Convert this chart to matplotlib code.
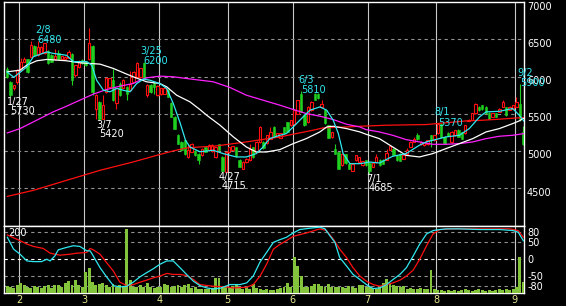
import numpy as np
import pandas as pd
import matplotlib
matplotlib.use("Agg")
import matplotlib.pyplot as plt

plt.rcParams["axes.unicode_minus"] = False

# trading days on the chart (Tokyo, 2011)
holidays = ["2011-02-11", "2011-03-21", "2011-04-29", "2011-05-03",
            "2011-05-04", "2011-05-05", "2011-07-18"]
dates = pd.bdate_range("2011-01-26", "2011-09-05", freq="C", holidays=holidays)

open_ = [6100, 5930, 5840, 5930, 6090, 6200, 6230, 6265, 6410, 6290,
         6310, 6310, 6345, 6290, 6230, 6310, 6230, 6230, 6255, 6300,
         6020, 6130, 6220, 6200, 6230, 6410, 5570, 5660, 5435, 5795,
         5860, 5950, 5640, 5905, 5850, 5855, 5825, 5930, 6000, 5990,
         6185, 5750, 5885, 5915, 5750, 5760, 5770, 5825, 5650, 5460,
         5210, 5120, 5145, 4920, 4990, 5000, 4965, 4940, 5060, 5010,
         5000, 4920, 5090, 4920, 4720, 4985, 5010, 5055, 4880, 4765,
         4850, 4875, 5055, 4985, 5120, 5120, 5110, 5165, 5320, 5190,
         5180, 5320, 5390, 5345, 5360, 5500, 5760, 5480, 5390, 5545,
         5760, 5770, 5585, 5550, 5345, 5190, 5030, 4985, 4810, 4955,
         4830, 4735, 4875, 4850, 4810, 4880, 4840, 4785, 4850, 4885,
         4885, 4885, 5020, 5030, 4945, 4965, 4895, 4955, 5055, 5120,
         5210, 5090, 5075, 5090, 5210, 5145, 5235, 5360, 5190, 5245,
         5120, 5210, 5280, 5255, 5235, 5405, 5415, 5505, 5590, 5615,
         5590, 5510, 5460, 5510, 5525, 5595, 5585, 5550, 5570, 5590,
         5630, 5255]
high = [6130, 5945, 5890, 6100, 6250, 6260, 6240, 6470, 6420, 6480,
        6410, 6450, 6350, 6300, 6375, 6360, 6280, 6270, 6355, 6310,
        6160, 6220, 6240, 6210, 6650, 6420, 5760, 5670, 5750, 6000,
        5980, 6105, 5850, 5920, 5960, 5870, 6075, 6070, 6190, 6120,
        6200, 5900, 5900, 5925, 5880, 5850, 5860, 5835, 5660, 5470,
        5230, 5130, 5150, 5100, 5110, 5010, 4970, 5040, 5070, 5090,
        5090, 5060, 5100, 4930, 5000, 5060, 5070, 5060, 4890, 4860,
        4900, 5090, 5060, 5130, 5330, 5130, 5220, 5325, 5330, 5240,
        5240, 5325, 5395, 5420, 5560, 5690, 5810, 5490, 5600, 5670,
        5775, 5780, 5680, 5560, 5350, 5260, 5100, 4990, 4970, 4960,
        4840, 4830, 4945, 4925, 4870, 4885, 4850, 4845, 4960, 4890,
        4890, 5030, 5070, 5040, 4950, 4970, 4950, 5040, 5130, 5190,
        5240, 5130, 5125, 5150, 5220, 5215, 5370, 5365, 5200, 5250,
        5270, 5280, 5290, 5260, 5350, 5425, 5510, 5645, 5600, 5620,
        5600, 5520, 5510, 5515, 5575, 5690, 5590, 5600, 5620, 5730,
        5900, 5330]
low = [5975, 5730, 5820, 5900, 6080, 6190, 6050, 6260, 6280, 6280,
       6300, 6300, 6170, 6190, 6220, 6220, 6220, 6220, 6250, 5880,
       6000, 6120, 6170, 6140, 6220, 5750, 5435, 5420, 5430, 5780,
       5850, 5670, 5570, 5740, 5840, 5690, 5800, 5920, 5990, 5980,
       5960, 5730, 5780, 5770, 5740, 5750, 5760, 5720, 5450, 5290,
       5090, 5000, 4950, 4910, 4980, 4930, 4830, 4930, 4980, 5000,
       4990, 4910, 5010, 4715, 4720, 4970, 5000, 4920, 4780, 4760,
       4840, 4870, 4910, 4980, 5110, 5030, 5100, 5160, 5190, 5185,
       5175, 5230, 5250, 5340, 5350, 5490, 5520, 5340, 5380, 5540,
       5680, 5700, 5580, 5360, 5175, 5180, 4960, 4760, 4800, 4830,
       4760, 4730, 4870, 4845, 4800, 4800, 4685, 4780, 4845, 4800,
       4825, 4880, 5015, 4940, 4870, 4860, 4890, 4950, 5050, 5115,
       5150, 5085, 5070, 5085, 5060, 5140, 5230, 5180, 5100, 5195,
       5110, 5205, 5185, 5160, 5230, 5400, 5410, 5500, 5540, 5555,
       5500, 5430, 5455, 5455, 5520, 5590, 5475, 5545, 5565, 5585,
       5400, 5080]
close = [5990, 5750, 5880, 6090, 6200, 6240, 6065, 6420, 6290, 6390,
         6400, 6445, 6175, 6200, 6275, 6230, 6275, 6265, 6330, 5950,
         6150, 6195, 6180, 6150, 6445, 5795, 5750, 5435, 5615, 5985,
         5975, 5680, 5840, 5750, 5950, 5770, 5905, 6060, 6180, 6110,
         5975, 5885, 5795, 5855, 5870, 5840, 5840, 5730, 5460, 5300,
         5100, 5010, 4960, 5010, 5100, 4940, 4885, 5030, 4990, 5080,
         5075, 5055, 5020, 4725, 4985, 5055, 5065, 4930, 4785, 4850,
         4890, 5030, 4920, 5120, 5320, 5035, 5210, 5255, 5200, 5235,
         5235, 5235, 5255, 5415, 5545, 5680, 5525, 5345, 5590, 5660,
         5685, 5705, 5630, 5370, 5180, 5255, 4965, 4765, 4965, 4835,
         4765, 4825, 4940, 4920, 4865, 4810, 4730, 4840, 4920, 4810,
         4830, 4975, 5065, 4945, 4875, 4865, 4940, 5020, 5120, 5165,
         5155, 5120, 5120, 5145, 5150, 5210, 5360, 5190, 5110, 5200,
         5255, 5280, 5190, 5165, 5345, 5420, 5505, 5630, 5550, 5560,
         5505, 5435, 5505, 5460, 5570, 5660, 5480, 5590, 5615, 5660,
         5435, 5090]

volume = [21, 19, 16, 24, 29, 23, 19, 14, 21, 19,
          14, 21, 25, 14, 24, 24, 19, 29, 37, 24,
          39, 24, 17, 63, 75, 34, 24, 27, 31, 24,
          19, 27, 19, 24, 20, 191, 39, 17, 19, 24,
          17, 29, 17, 14, 17, 17, 26, 24, 19, 21,
          24, 17, 24, 27, 14, 19, 13, 11, 13, 11,
          15, 45, 43, 19, 21, 17, 21, 24, 17, 13,
          17, 13, 26, 14, 11, 9, 11, 9, 9, 11,
          14, 17, 30, 19, 107, 81, 49, 19, 17, 21,
          27, 27, 21, 19, 27, 17, 19, 17, 17, 15,
          21, 17, 15, 23, 24, 17, 19, 15, 13, 19,
          29, 41, 27, 24, 21, 17, 21, 13, 15, 11,
          11, 15, 13, 11, 69, 13, 9, 9, 7, 9,
          7, 9, 7, 9, 11, 9, 7, 9, 11, 9,
          7, 9, 7, 9, 11, 9, 11, 9, 13, 17,
          107, 34]

# moving averages at (day index, price)
ma_short_x = [0, 2, 5.8, 7.7, 11.6, 13.5, 17.4, 19.4, 23.3, 24.8, 26.2, 28.2, 30.1, 32.1,
              34, 36, 37.9, 39.9, 41.8, 44.7, 46.7, 48.6, 50.6, 52.2, 53.5, 56.4, 60.3,
              63.2, 67.1, 70, 72.9, 74.9, 76.8, 79.8, 81.7, 83.7, 86.6, 88.6, 91.5, 93.5,
              95.4, 96.9, 98.3, 100.3, 103.2, 106.1, 108.9, 112.8, 116.7, 120.6, 122.6,
              124.5, 128.4, 132.3, 135.2, 138.2, 140.1, 144, 147.9, 149.8, 151.2]
ma_short_y = [6060, 5990, 6130, 6265, 6330, 6310, 6285, 6200, 6200, 6150, 5950, 5815, 5795, 5840,
              5815, 5795, 5905, 5965, 5950, 5905, 5840, 5640, 5380, 5144, 5054, 4990, 5010,
              4965, 4920, 4920, 4965, 5054, 5166, 5211, 5234, 5323, 5458, 5548, 5592, 5548,
              5413, 5234, 4965, 4830, 4830, 4852, 4839, 4929, 4965, 5077, 5122,
              5144, 5189, 5211, 5301, 5458, 5525, 5533, 5570, 5480, 5400]
ma_mid_x = [0.1, 3.8, 5.8, 8.7, 11.6, 17.4, 21.3, 24.3, 27.2, 31.1, 35, 36.9, 40.8, 44.7,
            46.7, 49.6, 53.5, 56.4, 58.4, 62.3, 66.2, 70, 72.9, 75.9, 79.8, 83.7, 87.5,
            91.5, 93.5, 95.4, 99.3, 103.2, 105, 108.9, 112.8, 116.7, 120.6, 124.5, 128.4,
            132.3, 136.2, 140.1, 144, 147.9, 149.8, 151.2]
ma_mid_y = [6063, 6085, 6153, 6211, 6229, 6211, 6184, 6175, 6166, 6108, 6032, 5996, 5929, 5906,
            5861, 5749, 5660, 5557, 5480, 5346, 5189, 5054, 4987, 4987, 5019, 5099, 5166,
            5256, 5323, 5332, 5301, 5256, 5225, 5166, 5054, 4942, 4920, 4965, 5032,
            5099, 5166, 5256, 5301, 5368, 5404, 5440]
ma_long_x = [0.1, 3.8, 7.7, 13.5, 17.4, 21.3, 25.2, 29.1, 33, 36.9, 38.9, 40.8, 44.7, 48.6,
             52.5, 56.4, 60.3, 65.2, 70, 74.9, 79.8, 83.7, 87.5, 91.5, 95.4, 99.3, 103.2,
             105, 108.9, 112.8, 116.7, 120.6, 124.5, 128.4, 132.3, 136.2, 140.1, 144,
             147.9, 151.2]
ma_long_y = [5243, 5301, 5391, 5525, 5601, 5682, 5763, 5825, 5870, 5906, 5951, 5982, 6005, 5996,
             5973, 5951, 5929, 5853, 5749, 5682, 5615, 5557, 5503, 5467, 5422, 5359, 5323,
             5287, 5256, 5211, 5153, 5122, 5090, 5090, 5099, 5122, 5166, 5198,
             5211, 5234]
ma_year_x = [0.1, 7.7, 17.4, 27.2, 36.9, 43.8, 48.6, 52.5, 56.4, 60.3, 70, 79.8, 84.6, 89.5,
             92.4, 99.3, 103.2, 110.8, 122.6, 134.3, 139.1, 144, 147.9, 151.2]
ma_year_y = [4391, 4472, 4606, 4741, 4853, 4942, 5001, 5041, 5054, 5063, 5122, 5189, 5234, 5279,
             5310, 5323, 5332, 5346, 5355, 5404, 5413, 5427, 5440, 5449]

# oscillator lines in the lower panel
osc_fast_x = [0.1, 1.9, 3.8, 5.8, 7.7, 10.1, 11.6, 12.6, 14, 15, 17.4, 19.4, 21.3, 23.3, 24.3,
              25.2, 27.2, 29.1, 31.1, 33, 35, 36.9, 38.9, 40.8, 42.8, 44.7, 46.7, 48.6,
              50.6, 52.5, 54.5, 56.4, 58.4, 60.3, 62.3, 65.2, 68.1, 70.1, 72, 74, 75.9,
              77.9, 79.8, 81.7, 83.7, 85.6, 88.6, 91.5, 93, 94.4, 95.9, 97.3, 99.3, 101.2,
              103.2, 105.1, 107.1, 109, 111, 112.9, 114.9, 116.8, 118.8, 120.7, 122.7,
              124.6, 126.6, 128.5, 132.4, 138.3, 144.1, 148, 149.5, 151]
osc_fast_y = [65, 30, 15, -5, -7, -7, 0, -5, 10, 28, 35, 40, 38, 25, 25,
              10, -25, -52, -78, -82, -80, -68, -52, -40, -28, -15, -5, -5,
              -25, -45, -65, -78, -85, -88, -86, -75, -75, -70, -50, -8, 20,
              50, 58, 65, 78, 88, 92, 95, 90, 70, 50, 5, -20, -45,
              -60, -75, -87, -85, -75, -60, -45, -25, 10, 45, 75,
              85, 88, 90, 90, 88, 88, 85, 80, 55]
osc_slow_x = [0.1, 3.8, 5.8, 7.7, 10.6, 12.6, 15.5, 18.4, 20.4, 23.3, 24.3, 25.2, 27.2, 29.1,
              31.1, 33, 35, 36.9, 38.9, 40.8, 42.8, 44.7, 46.7, 48.6, 50.6, 52.5, 54.5,
              56.4, 60.3, 64.2, 66.2, 70.1, 72, 74, 75.9, 77.9, 79.8, 81.7, 83.7, 87.6,
              91.5, 93.4, 95.4, 97.3, 99.3, 101.2, 103.2, 105.1, 107.1, 109, 111, 112.9,
              114.9, 116.8, 118.8, 120.7, 122.7, 124.6, 126.6, 130.5, 138.3, 147.1, 149.5, 151]
osc_slow_y = [72, 55, 45, 38, 32, 18, 12, 15, 18, 20, 32, 28, 15, -10,
              -35, -68, -78, -75, -68, -62, -55, -50, -42, -45, -45, -48, -60,
              -75, -80, -82, -85, -83, -75, -50, -15, 30, 44, 55, 68, 78,
              90, 85, 60, 30, 5, -25, -50, -65, -75, -80, -75, -70,
              -62, -50, -32, 0, 40, 75, 88, 90, 90, 90, 85, 65]

# high / low markers
mark_day = [1, 9, 27, 40, 63, 86, 106, 126, 150]
mark_date = ["1/27", "2/8", "3/7", "3/25", "4/27", "6/3", "7/1", "8/1", "9/2"]
mark_price = [5730, 6480, 5420, 6200, 4715, 5810, 4685, 5370, 5900]
mark_high = [False, True, False, True, False, True, False, True, True]

price_levels = [7000, 6500, 6000, 5500, 5000, 4500]
osc_levels = [80, 50, 0, -50, -80]

RED = "#ff1010"
GREEN = "#20d020"
CYAN = "#30e8f0"
MAGENTA = "#ff20ff"

x = np.arange(len(dates))
o, h, l, c = map(np.array, (open_, high, low, close))
month_first = [i for i in range(1, len(dates)) if dates[i].month != dates[i - 1].month]
month_lines = [i - 0.5 for i in month_first]
month_names = [str(dates[i].month) for i in month_first]

W, H = 566, 306
fig = plt.figure(figsize=(W / 100, H / 100), dpi=100, facecolor="black")


def box(left, top, right, bottom):
    return [left / W, 1 - bottom / H, (right - left) / W, (bottom - top) / H]


ax = fig.add_axes(box(4.3, 2, 524, 225.5))
axl = fig.add_axes(box(4.3, 225.5, 524, 293))
for a in (ax, axl):
    a.set_facecolor("black")
    a.set_xlim(-0.8, 151.2)
    for s in a.spines.values():
        s.set_color("white")
        s.set_linewidth(1.0)
    for m in month_lines:
        a.axvline(m, color="#c8c8c8", lw=0.8, zorder=0.5)

# price panel
ax.set_ylim(4000, 7000)
for lvl in price_levels[1:]:
    ax.axhline(lvl, color="#909090", lw=0.8, ls=(0, (3, 3)), zorder=0.5)

up = c >= o
ax.vlines(x, l, h, colors=np.where(up, RED, GREEN), lw=0.8, zorder=2)
body_lo = np.minimum(o, c)
body_h = np.maximum(np.abs(c - o), 8)
ax.bar(x[up], body_h[up], bottom=body_lo[up], width=0.7, facecolor="black",
       edgecolor=RED, lw=0.8, zorder=3)
ax.bar(x[~up], body_h[~up], bottom=body_lo[~up], width=0.7, color=GREEN,
       edgecolor=GREEN, lw=0.4, zorder=3)

ax.plot(ma_year_x, ma_year_y, color=RED, lw=0.9, zorder=4)
ax.plot(ma_long_x, ma_long_y, color=MAGENTA, lw=0.9, zorder=4)
ax.plot(ma_mid_x, ma_mid_y, color="white", lw=0.9, zorder=4)
ax.plot(ma_short_x, ma_short_y, color=CYAN, lw=0.9, zorder=4)

for d, name, p, is_high in zip(mark_day, mark_date, mark_price, mark_high):
    col = CYAN if is_high else "white"
    if is_high:
        offs = [(-3, 8, name), (0, -2.5, str(p))]
    else:
        offs = [(-3.5, -8, name), (-0.5, -17, str(p))]
    for dx, dy, t in offs:
        ax.annotate(t, xy=(d, p), xytext=(dx, dy), textcoords="offset pixels",
                    color=col, fontsize=7, ha="left", va="baseline",
                    annotation_clip=False, zorder=6)

# right-hand price labels hang just below their level
ax.set_yticks([])
ax.set_xticks([])
for lvl in price_levels:
    ax.annotate(str(lvl), xy=(1, lvl), xycoords=("axes fraction", "data"),
                xytext=(3, 0.5), textcoords="offset pixels", color="white",
                fontsize=7, ha="left", va="top", annotation_clip=False)

# lower panel: grid on base, volume on one twin, oscillators on another
axl.set_ylim(-100, 100)
for lvl in [80, 50, -50, -80]:
    axl.axhline(lvl, color="#909090", lw=0.8, ls=(0, (3, 3)), zorder=0.5)
axl.axhline(0, color="white", lw=0.8, ls=(0, (3, 3)), zorder=0.5)
axl.set_yticks([])
axl.set_xticks(month_lines)
axl.set_xticklabels(month_names)
axl.tick_params(axis="x", length=0, pad=1.2, colors="#e8e890", labelsize=7)

axv = axl.twinx()
axv.set_ylim(0, 200)
axv.bar(x, volume, width=0.86, color="#84c43c", lw=0)
axv.set_yticks([])
axv.text(0.007, 0.85, "200", transform=axv.transAxes, color="white",
         fontsize=7, ha="left", va="baseline")

axs = axl.twinx()
axs.set_ylim(-100, 100)
axs.plot(osc_slow_x, osc_slow_y, color=RED, lw=0.9)
axs.plot(osc_fast_x, osc_fast_y, color=CYAN, lw=0.9)
axs.set_yticks(osc_levels)
axs.tick_params(axis="y", length=0, pad=2.2, colors="white", labelsize=7)
for a in (axv, axs):
    for s in a.spines.values():
        s.set_visible(False)

fig.savefig("out.png", dpi=100, facecolor="black")
